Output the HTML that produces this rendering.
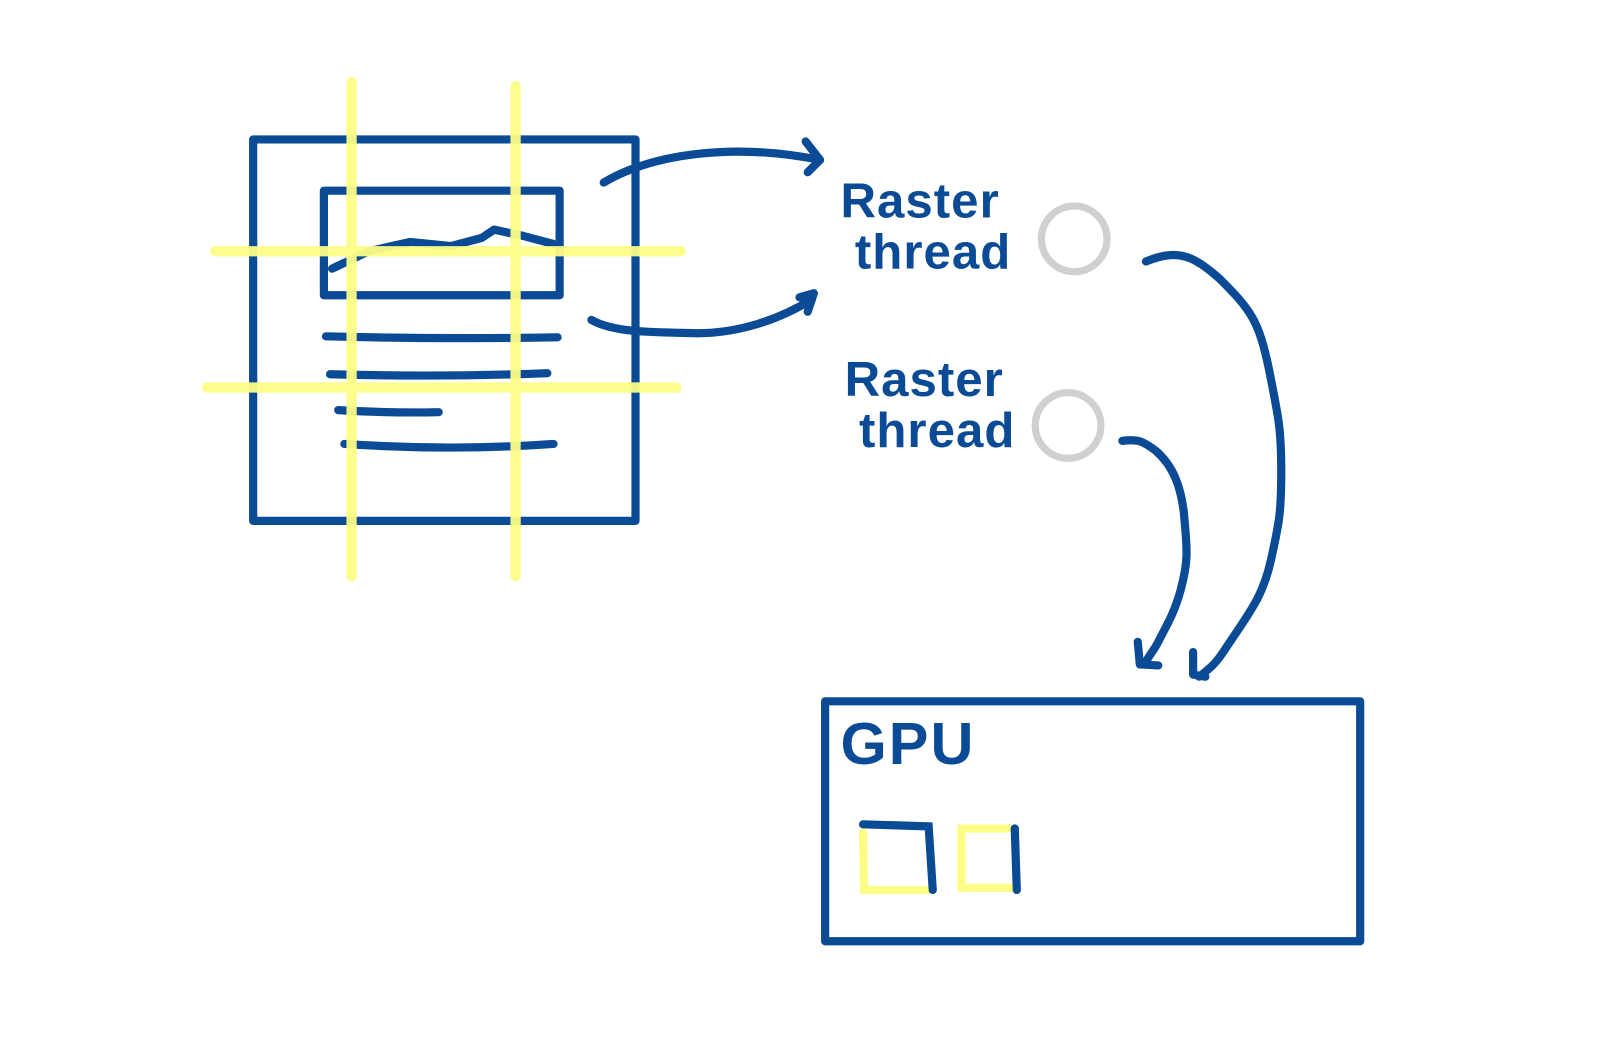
<!DOCTYPE html>
<html><head><meta charset="utf-8"><style>
html,body{margin:0;padding:0;background:#fff;}
svg{display:block}
text{font-family:"Liberation Sans",sans-serif;font-weight:bold;fill:#0b4a94}
</style></head><body>
<svg width="1599" height="1054" viewBox="0 0 1560 1028" preserveAspectRatio="none" xmlns="http://www.w3.org/2000/svg">
<g fill="none" stroke="#0b4a94" stroke-width="8" stroke-linecap="round" stroke-linejoin="round">
  <path d="M247 136 L620 136 L620 508 L247 508 Z"/>
  <path d="M316 186 L546 186 L546 288 L316 288 Z"/>
  <path d="M324 262 L360 245 L400 236 L440 240 L470 232 L482 224 L510 230 L540 238"/>
  <path d="M318 328 Q430 331 544 329"/>
  <path d="M322 365 Q430 368 534 364"/>
  <path d="M330 400 Q380 403 428 402"/>
  <path d="M336 433 Q440 440 540 433"/>
</g>
<g fill="none" stroke="#fdfd86" stroke-width="10" stroke-linecap="round" opacity="0.95">
  <path d="M343 80 L343 562"/>
  <path d="M503 84 L503 562"/>
  <path d="M210 245 L664 245"/>
  <path d="M202 378 L660 378"/>
</g>
<g fill="none" stroke="#0b4a94" stroke-width="8" stroke-linecap="round" stroke-linejoin="round">
  <path d="M589 178 C640 148 720 140 800 156"/>
  <path d="M786 138 L800 156 L788 168"/>
  <path d="M577 312 C600 325 640 324 680 325 C720 325 760 312 792 292"/>
  <path d="M780 290 L794 286 L788 304"/>
  <path d="M1118 255 C1150 242 1165 250 1190 272 C1220 302 1228 312 1238 360 C1248 410 1250 420 1250 460 C1250 500 1248 510 1240 546 C1232 582 1220 596 1196 632 C1186 648 1180 652 1170 660"/>
  <path d="M1164 636 L1164 658 L1176 660"/>
  <path d="M1095 430 C1110 428 1115 430 1128 440 C1145 455 1152 475 1155 500 C1158 535 1160 545 1152 575 C1145 600 1138 610 1130 626 C1125 636 1120 640 1118 646"/>
  <path d="M1110 626 L1112 648 L1130 649"/>
  <path d="M805 684 L1327 684 L1327 918 L805 918 Z"/>
</g>
<g fill="none" stroke-width="8" stroke-linecap="round">
  <path d="M842 812 L843 868 L906 868" stroke="#fdfd86"/>
  <path d="M842 804 L906 806 L910 868" stroke="#0b4a94"/>
  <path d="M990 808 L938 808 L938 866 L990 866" stroke="#fdfd86"/>
  <path d="M990 808 L992 868" stroke="#0b4a94"/>
</g>
<circle cx="1048" cy="233" r="32" fill="none" stroke="#d0d0d0" stroke-width="7"/>
<circle cx="1042" cy="415" r="32" fill="none" stroke="#d0d0d0" stroke-width="7"/>
<text x="820" y="212" font-size="48" letter-spacing="1">Raster</text>
<text x="834" y="262" font-size="48" letter-spacing="1">thread</text>
<text x="824" y="386" font-size="48" letter-spacing="1">Raster</text>
<text x="838" y="436" font-size="48" letter-spacing="1">thread</text>
<text x="820" y="745" font-size="58" letter-spacing="2">GPU</text>
</svg>
</body></html>
